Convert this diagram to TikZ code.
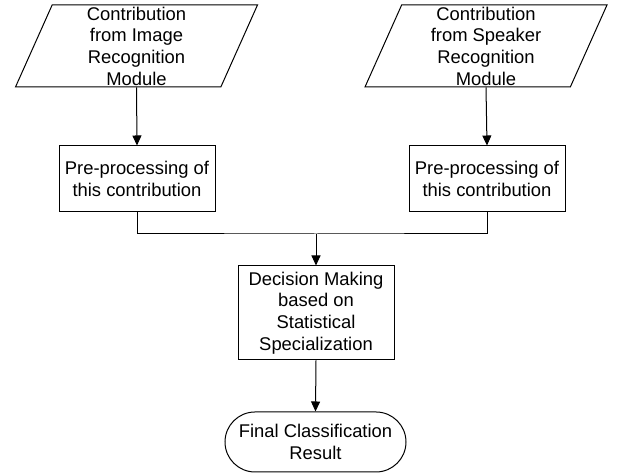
\documentclass[tikz,border=0pt]{standalone}
\usepackage{fontspec}
\setmainfont{Liberation Sans}
\usetikzlibrary{shapes.geometric,shapes.misc,arrows.meta}

\begin{document}
\begin{tikzpicture}[x=.5pt,y=.5pt,line width=.5pt,font=\fontsize{9.2}{10.85}\selectfont,
  io/.style={trapezium,trapezium left angle=65,trapezium right angle=115,trapezium stretches body,draw,minimum width=121pt,minimum height=41pt,inner sep=0pt,align=center},
  proc/.style={rectangle,draw,minimum width=78pt,minimum height=33pt,inner sep=0pt,align=center},
  term/.style={rounded rectangle,draw,minimum width=90.5pt,minimum height=30pt,inner sep=0pt,align=center},
  >={Triangle[width=4.5pt,length=5pt]}]
\useasboundingbox (0,0) rectangle (623,474);
\node[io] (img) at (136.5,428) {Contribution\\from Image\\Recognition\\Module};
\node[io] (spk) at (486,428) {Contribution\\from Speaker\\Recognition\\Module};
\node[proc] (preL) at (137,295) {Pre-processing of\\this contribution};
\node[proc] (preR) at (487,295) {Pre-processing of\\this contribution};
\node[proc,minimum height=47pt] (dec) at (316,161) {Decision Making\\based on\\Statistical\\Specialization};
\node[term] (res) at (315.5,32) {Final Classification\\Result};
\coordinate (join) at (316,240);
\draw[->] (img.south) -- (preL.north);
\draw[->] (spk.south) -- (preR.north);
\draw (preL.south) |- (join) -| (preR.south);
\draw[->] (join) -- (dec.north);
\draw[->] (dec.south) -- (res.north);
\end{tikzpicture}
\end{document}
